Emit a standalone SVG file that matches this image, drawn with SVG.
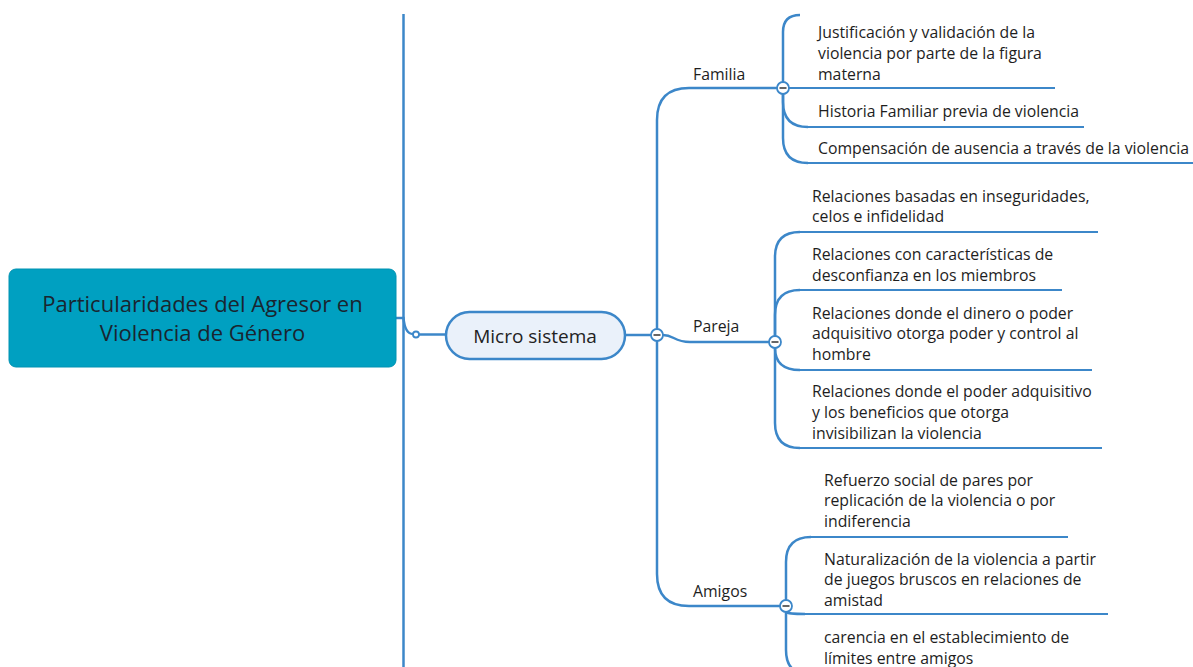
<svg xmlns="http://www.w3.org/2000/svg" width="1193" height="667" viewBox="0 0 1193 667">
<defs>
<style>
.ln{fill:none;stroke:#3C87C9;stroke-width:2.5;stroke-linecap:butt}
.ul{fill:none;stroke:#3C87C9;stroke-width:2}
.t{font-family:"Open Sans","Noto Sans","DejaVu Sans",sans-serif;font-size:15.8px;fill:#1e1e1e}
.tog{fill:#ffffff;stroke:#3C87C9;stroke-width:1.8}
.dash{stroke:#555;stroke-width:1.8}
</style>
</defs>
<rect width="1193" height="667" fill="#ffffff"/>
<g id="connectors">
<line class="ln" x1="403.5" y1="14" x2="403.5" y2="667"/>
<path class="ln" d="M396,318 H403.5 Q405,334 413,334"/>
<line class="ln" x1="419" y1="334.5" x2="446" y2="334.5"/>
<line class="ln" x1="625" y1="335" x2="651" y2="335"/>
<path class="ln" d="M657,335 V120 Q657,88 689,88 H777"/>
<path class="ln" d="M663,335 C674,335 674,342 690,342 H769"/>
<path class="ln" d="M657,341 V574 Q657,606 689,606 H780"/>
<path class="ln" d="M783,82 V32 Q783,15 800,15"/>
<path class="ul" d="M789,88 H1055"/>
<path class="ln" d="M783,94 V102 Q783,127 808,127"/><path class="ul" d="M807,127 H1084"/>
<path class="ln" d="M783,94 V138 Q783,163 808,163"/><path class="ul" d="M807,163 H1193"/>
<path class="ln" d="M775,336 V257 Q775,232 800,232"/><path class="ul" d="M799,232 H1098"/>
<path class="ln" d="M775,336 V315 Q775,290 800,290"/><path class="ul" d="M799,290 H1062"/>
<path class="ln" d="M775,348 Q775,370 800,370"/><path class="ul" d="M799,370 H1092"/>
<path class="ln" d="M775,348 V423 Q775,448 800,448"/><path class="ul" d="M799,448 H1102"/>
<path class="ln" d="M786,600 V562 Q786,537 811,537"/><path class="ul" d="M810,537 H1068"/>
<path class="ln" d="M786,612 Q788,614 805,614"/><path class="ul" d="M804,614 H1108"/>
<path class="ln" d="M786,612 V650 Q786,675 811,675"/>
</g>
<g id="root">
<rect x="9" y="269" width="387" height="98" rx="7" fill="#00A0C1" stroke="#0092b2" stroke-width="1"/>
<text x="202.5" y="312" text-anchor="middle" font-family="'Open Sans','Noto Sans',sans-serif" font-size="22" fill="#1a2530">Particularidades del Agresor en</text>
<text x="202.5" y="341" text-anchor="middle" font-family="'Open Sans','Noto Sans',sans-serif" font-size="22" fill="#1a2530">Violencia de Género</text>
<circle class="tog" cx="416" cy="334.5" r="3"/>
</g>
<g id="micro">
<rect x="446" y="312" width="179" height="47" rx="23.5" fill="#EAF1FA" stroke="#3C87C9" stroke-width="2.5"/>
<text x="535" y="343" text-anchor="middle" font-family="'Open Sans','Noto Sans',sans-serif" font-size="19" fill="#222">Micro sistema</text>
<circle class="tog" cx="657" cy="335" r="6"/><line class="dash" x1="653.5" y1="335" x2="660.5" y2="335"/>
</g>
<g id="familia">
<text class="t" x="693" y="80">Familia</text>
<circle class="tog" cx="783" cy="88" r="6"/><line class="dash" x1="779.5" y1="88" x2="786.5" y2="88"/>
</g>
<g id="familia-1"><text class="t" x="818" y="38">Justificación y validación de la</text><text class="t" x="818" y="59">violencia por parte de la figura</text><text class="t" x="818" y="80">materna</text></g>
<g id="familia-2"><text class="t" x="818" y="117">Historia Familiar previa de violencia</text></g>
<g id="familia-3"><text class="t" x="818" y="154">Compensación de ausencia a través de la violencia</text></g>
<g id="pareja">
<text class="t" x="693" y="332">Pareja</text>
<circle class="tog" cx="775" cy="342" r="6"/><line class="dash" x1="771.5" y1="342" x2="778.5" y2="342"/>
</g>
<g id="pareja-1"><text class="t" x="812" y="202">Relaciones basadas en inseguridades,</text><text class="t" x="812" y="222">celos e infidelidad</text></g>
<g id="pareja-2"><text class="t" x="812" y="260">Relaciones con características de</text><text class="t" x="812" y="281">desconfianza en los miembros</text></g>
<g id="pareja-3"><text class="t" x="812" y="319">Relaciones donde el dinero o poder</text><text class="t" x="812" y="339">adquisitivo otorga poder y control al</text><text class="t" x="812" y="360">hombre</text></g>
<g id="pareja-4"><text class="t" x="812" y="397">Relaciones donde el poder adquisitivo</text><text class="t" x="812" y="418">y los beneficios que otorga</text><text class="t" x="812" y="439">invisibilizan la violencia</text></g>
<g id="amigos">
<text class="t" x="693" y="597">Amigos</text>
<circle class="tog" cx="786" cy="606" r="6"/><line class="dash" x1="782.5" y1="606" x2="789.5" y2="606"/>
</g>
<g id="amigos-1"><text class="t" x="824" y="486">Refuerzo social de pares por</text><text class="t" x="824" y="506">replicación de la violencia o por</text><text class="t" x="824" y="527">indiferencia</text></g>
<g id="amigos-2"><text class="t" x="824" y="565">Naturalización de la violencia a partir</text><text class="t" x="824" y="585">de juegos bruscos en relaciones de</text><text class="t" x="824" y="606">amistad</text></g>
<g id="amigos-3"><text class="t" x="824" y="643">carencia en el establecimiento de</text><text class="t" x="824" y="664">límites entre amigos</text></g>
</svg>
